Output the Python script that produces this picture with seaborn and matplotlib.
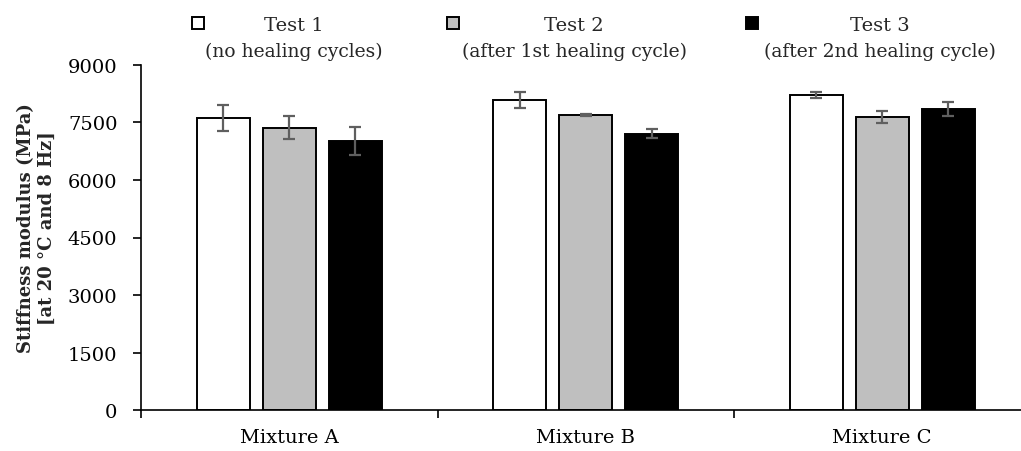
import matplotlib
matplotlib.use("Agg")
import matplotlib.pyplot as plt
from matplotlib.patches import Rectangle
import numpy as np
import pandas as pd
import seaborn as sns

# Stiffness modulus per mixture and test (MPa), with standard deviations
mixtures = ["Mixture A", "Mixture B", "Mixture C"]
tests = ["Test 1", "Test 2", "Test 3"]
test_notes = ["(no healing cycles)", "(after 1st healing cycle)", "(after 2nd healing cycle)"]
test1 = [7610, 8090, 8210]
test2 = [7360, 7690, 7630]
test3 = [7020, 7200, 7845]
sd1 = [335, 205, 70]
sd2 = [300, 25, 160]
sd3 = [370, 115, 185]
yticks = [0, 1500, 3000, 4500, 6000, 7500, 9000]

colors = ["#ffffff", "#bfbfbf", "#000000"]
FONT = "DejaVu Serif"
FS = 14

sns.set_theme(style="white")
plt.rcParams["font.family"] = [FONT]

df = pd.DataFrame({
    "Mixture": mixtures * 3,
    "Test": [t for t in tests for _ in mixtures],
    "Stiffness": test1 + test2 + test3,
})
sds = [sd1, sd2, sd3]

W, H = 1021, 452
fig = plt.figure(figsize=(W / 100, H / 100), dpi=100)
ax = fig.add_axes([141 / W, 40.7 / H, 889.5 / W, 345.6 / H])

sns.barplot(data=df, x="Mixture", y="Stiffness", hue="Test",
            order=mixtures, hue_order=tests, palette=colors,
            width=0.67, gap=0.2, errorbar=None,
            edgecolor="black", linewidth=1.4, legend=False, ax=ax)

for cont, sd in zip(ax.containers, sds):
    xs = [b.get_x() + b.get_width() / 2 for b in cont]
    ys = [b.get_height() for b in cont]
    ax.errorbar(xs, ys, yerr=sd, fmt="none", ecolor="#5f5f5f",
                elinewidth=1.6, capsize=4.5, capthick=1.6, zorder=5)

ax.set_xlim(-0.5, 2.5)
ax.set_ylim(0, 9000)
ax.set_yticks(yticks)
ax.set_yticklabels([str(v) for v in yticks], fontsize=FS, fontfamily=FONT)
ax.set_xticks([-0.5, 0.5, 1.5, 2.5])
ax.set_xticklabels([])
ax.set_xticks([0, 1, 2], minor=True)
ax.set_xticklabels(mixtures, minor=True, fontsize=FS, fontfamily=FONT)
ax.tick_params(axis="x", which="major", direction="out", length=6, width=1.2,
               color="black", bottom=True)
ax.tick_params(axis="x", which="minor", length=0, pad=13, labelcolor="black")
ax.tick_params(axis="y", direction="out", length=6, width=1.2, color="black",
               left=True, pad=11, labelcolor="black")
ax.set_xlabel("")
ax.set_ylabel("")
for s in ["top", "right"]:
    ax.spines[s].set_visible(False)
for s in ["left", "bottom"]:
    ax.spines[s].set_color("black")
    ax.spines[s].set_linewidth(1.2)

fig.text(36.5 / W, 1 - 228 / H, "Stiffness modulus (MPa)\n[at 20 °C and 8 Hz]",
         rotation=90, ha="center", va="center", multialignment="center",
         fontsize=13, fontweight="bold", fontfamily=FONT, linespacing=1.15)

# Legend drawn across the top
sq_left = [192, 447, 746]
line_cx = [294, 574, 880]
for i in range(3):
    fig.add_artist(Rectangle((sq_left[i] / W, 1 - 30 / H), 12 / W, 12 / H,
                             transform=fig.transFigure, facecolor=colors[i],
                             edgecolor="black", linewidth=1.4))
    fig.text(line_cx[i] / W, 1 - 31 / H, tests[i], ha="center", va="baseline",
             fontsize=FS, fontfamily=FONT)
    fig.text(line_cx[i] / W, 1 - 57 / H, test_notes[i], ha="center",
             va="baseline", fontsize=13.5, fontfamily=FONT)

fig.savefig("out.png", dpi=100, facecolor="white")
